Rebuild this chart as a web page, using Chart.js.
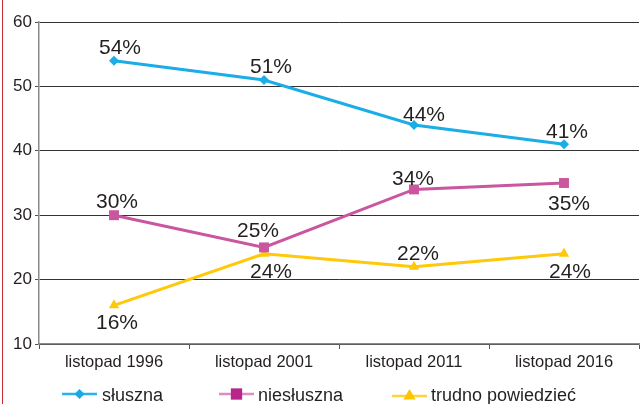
<!DOCTYPE html>
<html>
<head>
<meta charset="utf-8">
<script src="https://cdn.jsdelivr.net/npm/chart.js@4/dist/chart.umd.min.js"></script>
<style>
html,body{margin:0;padding:0;background:#fff;overflow:hidden}
#wrap{position:relative;width:646px;height:404px}
#edge{position:absolute;left:2px;top:0;width:1px;height:404px;background:#c62c36}
</style>
</head>
<body>
<div id="wrap"><canvas id="myChart" width="646" height="404"></canvas><div id="edge"></div></div>
<script>
const labels = ['listopad 1996', 'listopad 2001', 'listopad 2011', 'listopad 2016'];
const sluszna = [54, 51, 44, 41];
const niesluszna = [30, 25, 34, 35];
const trudno = [16, 24, 22, 24];
const seriesNames = ['słuszna', 'niesłuszna', 'trudno powiedzieć'];

const FONT = '"Liberation Sans", Arial, Helvetica, sans-serif';

// nudges for the % labels, per dataset / point: [dx, dy]
const labelNudge = [
  [[6, -14], [7, -14], [10, -12], [3, -14]],
  [[3, -15], [-6, -18], [-1, -12], [5, 19]],
  [[3, 16], [7, 17], [4, -14], [6, 17]]
];

const extras = {
  id: 'extras',
  afterDatasetsDraw(chart) {
    const ctx = chart.ctx;
    ctx.save();
    ctx.font = '21px ' + FONT;
    ctx.fillStyle = '#231f20';
    ctx.textAlign = 'center';
    ctx.textBaseline = 'alphabetic';
    chart.data.datasets.forEach((ds, i) => {
      const meta = chart.getDatasetMeta(i);
      meta.data.forEach((pt, j) => {
        const n = labelNudge[i][j];
        ctx.fillText(ds.data[j] + '%', pt.x + n[0], pt.y + n[1] + 7.5);
      });
    });
    ctx.restore();
  },
  afterDraw(chart) {
    const ctx = chart.ctx;
    const items = [
      {x1: 62, x2: 97, y: 394, tx: 102, line: '#2ab2e9', mark: '#1aa9e4', style: 'rectRot', r: 5},
      {x1: 219, x2: 254, y: 394, tx: 258, line: '#d98fc4', mark: '#b8268c', style: 'rect', r: 8},
      {x1: 392, x2: 427, y: 396, tx: 431, line: '#ffd23f', mark: '#ffc400', style: 'triangle', r: 7}
    ];
    ctx.save();
    items.forEach((it, i) => {
      ctx.strokeStyle = it.line;
      ctx.lineWidth = 2.5;
      ctx.beginPath();
      ctx.moveTo(it.x1, it.y);
      ctx.lineTo(it.x2, it.y);
      ctx.stroke();
      ctx.fillStyle = it.mark;
      Chart.helpers.drawPoint(ctx, {pointStyle: it.style, radius: it.r, rotation: 0, borderWidth: 0}, (it.x1 + it.x2) / 2, it.y);
      ctx.fillStyle = '#231f20';
      ctx.font = '18px ' + FONT;
      ctx.textAlign = 'left';
      ctx.textBaseline = 'alphabetic';
      ctx.fillText(seriesNames[i], it.tx, 401);
    });
    ctx.restore();
  }
};

new Chart(document.getElementById('myChart'), {
  type: 'line',
  data: {
    labels: labels,
    datasets: [
      {label: seriesNames[0], data: sluszna, borderColor: '#1aade6', backgroundColor: '#1aade6',
       borderWidth: 3, pointStyle: 'rectRot', pointRadius: 5, pointBorderWidth: 0},
      {label: seriesNames[1], data: niesluszna, borderColor: '#c9569f', backgroundColor: '#c9569f',
       borderWidth: 3, pointStyle: 'rect', pointRadius: 7, pointBorderWidth: 0},
      {label: seriesNames[2], data: trudno, borderColor: '#ffc808', backgroundColor: '#ffc808',
       borderWidth: 3, pointStyle: 'triangle', pointRadius: 6, pointBorderWidth: 0}
    ]
  },
  options: {
    responsive: false,
    animation: false,
    events: [],
    layout: {padding: {top: 22, left: 0, right: 0, bottom: 0}},
    plugins: {legend: {display: false}, tooltip: {enabled: false}},
    scales: {
      x: {
        offset: true,
        grid: {display: true, drawOnChartArea: false, offset: true, tickLength: 5, color: '#555'},
        border: {color: '#8a8a8a', width: 1.5},
        ticks: {color: '#231f20', font: {family: FONT, size: 16.5}, padding: 4, maxRotation: 0},
        afterFit(s) { s.height = 60; }
      },
      y: {
        min: 10,
        max: 60,
        ticks: {stepSize: 10, color: '#231f20', font: {family: FONT, size: 17}, padding: 3},
        grid: {color: '#333', tickColor: '#555', tickLength: 4, lineWidth: 1},
        border: {color: '#8a8a8a', width: 1.5},
        afterFit(s) { s.width = 39; }
      }
    }
  },
  plugins: [extras]
});
</script>
</body>
</html>
